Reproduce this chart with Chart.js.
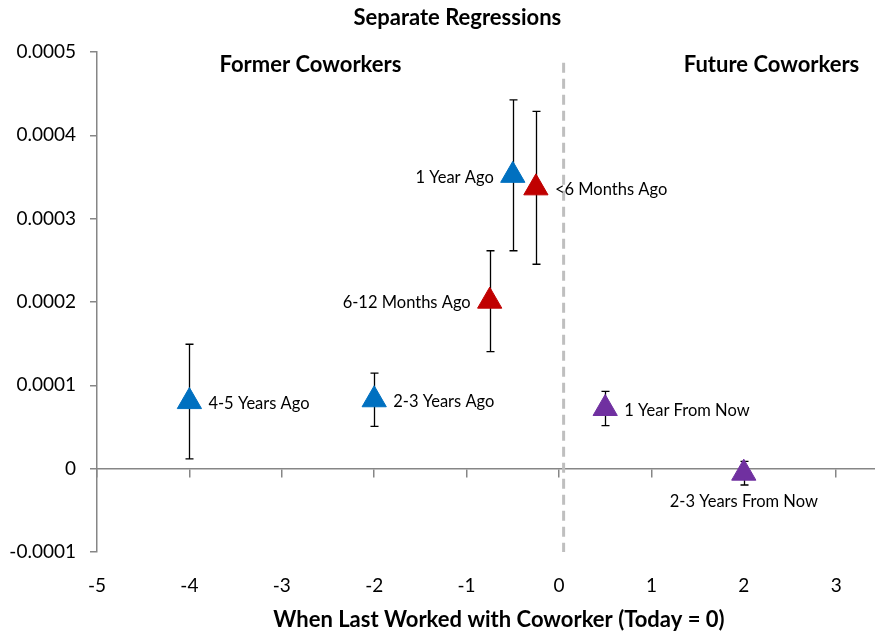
<!DOCTYPE html>
<html>
<head>
<meta charset="utf-8">
<script src="https://cdn.jsdelivr.net/npm/chart.js@4.4.0/dist/chart.umd.min.js"></script>
<style>
  html, body { margin: 0; padding: 0; background: #fff; overflow: hidden; }
</style>
</head>
<body>
<canvas id="chart" width="875" height="637"></canvas>
<script>
// point data
const pointLabels = ['4-5 Years Ago', '2-3 Years Ago', '1 Year Ago', '6-12 Months Ago', '<6 Months Ago', '1 Year From Now', '2-3 Years From Now'];
const xValues = [-4, -2, -0.5, -0.75, -0.25, 0.5, 2];
const yValues = [0.0000805, 0.0000827, 0.000352, 0.000201, 0.000337, 0.0000722, -0.0000054];
const errValues = [0.0000688, 0.000032, 0.0000905, 0.0000605, 0.0000917, 0.0000206, 0.0000142];
const labelSide = ['right', 'right', 'left', 'left', 'right', 'right', 'below'];
const pointColors = ['#0070C0', '#0070C0', '#0070C0', '#C00000', '#C00000', '#7030A0', '#7030A0'];

// axes
const xTicks = [-5, -4, -3, -2, -1, 0, 1, 2, 3];
const yTicks = [-0.0001, 0, 0.0001, 0.0002, 0.0003, 0.0004, 0.0005];
const todayLine = 0.05;

const axisGrey = '#868686';
const font = 'Lato';

// error bars, drawn under the triangles
const errorBars = {
  id: 'errorBars',
  beforeDatasetsDraw(chart) {
    const { ctx, scales: { x, y } } = chart;
    ctx.save();
    ctx.strokeStyle = '#000';
    ctx.lineWidth = 1.3;
    xValues.forEach((xv, i) => {
      const px = Math.round(x.getPixelForValue(xv)) + 0.5;
      const top = y.getPixelForValue(yValues[i] + errValues[i]);
      const bot = y.getPixelForValue(yValues[i] - errValues[i]);
      ctx.beginPath();
      ctx.moveTo(px, top); ctx.lineTo(px, bot);
      ctx.moveTo(px - 4, top); ctx.lineTo(px + 4, top);
      ctx.moveTo(px - 4, bot); ctx.lineTo(px + 4, bot);
      ctx.stroke();
    });
    ctx.restore();
  }
};

// point labels and headings
const textLayer = {
  id: 'textLayer',
  afterDatasetsDraw(chart) {
    const { ctx, scales: { x, y } } = chart;
    ctx.save();
    ctx.fillStyle = '#000';
    ctx.font = '16.5px ' + font;
    ctx.textBaseline = 'middle';
    pointLabels.forEach((txt, i) => {
      const px = x.getPixelForValue(xValues[i]);
      const py = y.getPixelForValue(yValues[i]) + 2;
      if (labelSide[i] === 'right') {
        ctx.textAlign = 'left';
        ctx.fillText(txt, px + 19, py);
      } else if (labelSide[i] === 'left') {
        ctx.textAlign = 'right';
        ctx.fillText(txt, px - 19, py);
      } else {
        ctx.textAlign = 'center';
        ctx.fillText(txt, px, py + 27);
      }
    });

    ctx.font = 'bold 22px ' + font;
    ctx.textAlign = 'center';
    ctx.fillText('Former Coworkers', x.getPixelForValue(-2.69), y.getPixelForValue(0.000484));
    ctx.fillText('Future Coworkers', x.getPixelForValue(2.3), y.getPixelForValue(0.000484));
    ctx.fillText('Separate Regressions', x.getPixelForValue(-1.1), 18);
    ctx.fillText('When Last Worked with Coworker (Today = 0)', x.getPixelForValue(-0.65), 620);
    ctx.restore();
  }
};

const noSidePadding = s => { s.paddingLeft = 0; s.paddingRight = 0; };

new Chart(document.getElementById('chart'), {
  type: 'scatter',
  data: {
    datasets: [
      {
        data: xValues.map((v, i) => ({ x: v, y: yValues[i] })),
        pointStyle: 'triangle',
        pointRadius: 14,
        pointHoverRadius: 14,
        pointBackgroundColor: pointColors,
        pointBorderColor: pointColors,
        pointBorderWidth: 1,
        clip: false
      },
      {
        type: 'line',
        data: [{ x: todayLine, y: 0.000487 }, { x: todayLine, y: -0.0001 }],
        borderColor: '#BFBFBF',
        borderWidth: 3,
        borderDash: [10, 6],
        pointRadius: 0,
        order: 1
      }
    ]
  },
  options: {
    responsive: false,
    animation: false,
    layout: { autoPadding: false, padding: { top: 52, left: 0, right: 0, bottom: 0 } },
    plugins: {
      legend: { display: false },
      tooltip: { enabled: false }
    },
    scales: {
      x: {
        type: 'linear',
        min: -5,
        max: 3.42,
        afterFit: s => { s.height = 85; noSidePadding(s); },
        afterBuildTicks: s => { s.ticks = xTicks.map(v => ({ value: v })); },
        ticks: { padding: 22, color: '#000', font: { family: font, size: 19 } },
        grid: { display: false, drawTicks: false },
        border: { display: false }
      },
      xZero: {
        type: 'linear',
        axis: 'x',
        position: { y: 0 },
        min: -5,
        max: 3.42,
        afterFit: noSidePadding,
        afterBuildTicks: s => { s.ticks = xTicks.map(v => ({ value: v })); },
        ticks: { display: false },
        grid: { drawOnChartArea: false, drawTicks: true, tickLength: 8, color: axisGrey, lineWidth: 1.5 },
        border: { color: axisGrey, width: 1.5 }
      },
      y: {
        min: -0.0001,
        max: 0.0005,
        afterFit: s => { s.width = 97; },
        afterBuildTicks: s => { s.ticks = yTicks.map(v => ({ value: v })); },
        ticks: {
          padding: 14,
          color: '#000',
          font: { family: font, size: 19 },
          callback: v => (Math.abs(v) < 1e-12 ? '0' : v.toFixed(4))
        },
        grid: { drawOnChartArea: false, drawTicks: true, tickLength: 7, color: axisGrey, lineWidth: 1.5 },
        border: { color: axisGrey, width: 1.5 }
      }
    }
  },
  plugins: [errorBars, textLayer]
});
</script>
</body>
</html>
